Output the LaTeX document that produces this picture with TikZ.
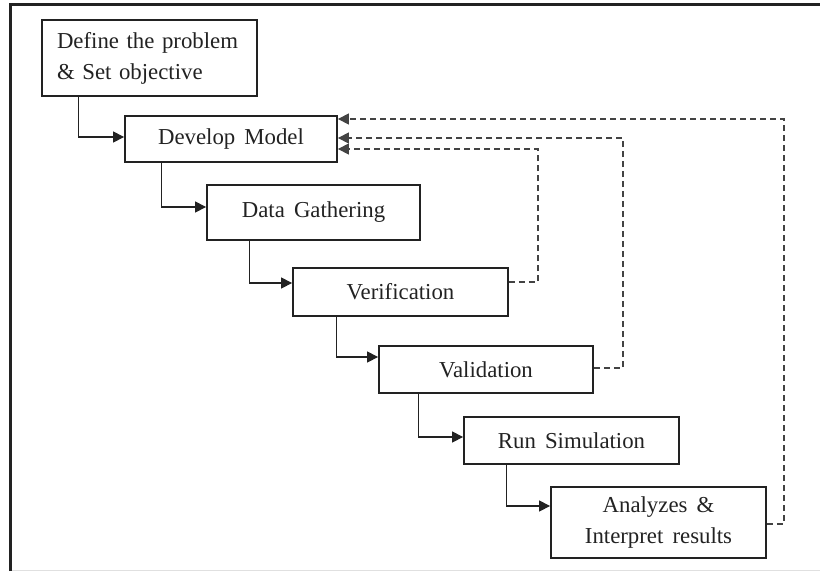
\documentclass[tikz,border=0pt]{standalone}
\usepackage{fontspec}
\setmainfont[WordSpace=1.6]{Liberation Serif}
\usetikzlibrary{arrows.meta,calc}
\definecolor{ink}{HTML}{222222}
\tikzset{
  stage/.style={draw=ink, line width=1.8pt, text=ink, minimum width=215pt,
    inner sep=0pt, font=\fontsize{22.8}{31}\selectfont, align=center},
  flow/.style={draw=ink, line width=1.2pt, -{Triangle[length=11pt,width=11pt]}},
  loopback/.style={draw=ink!85, line width=1.2pt, dash pattern=on 6pt off 4pt,
    -{Triangle[length=11pt,width=11pt]}}
}
\begin{document}
\begin{tikzpicture}[x=1pt,y=-1pt]
  \useasboundingbox (0,0) rectangle (820,571);
  % outer frame
  \draw[ink, line width=3pt] (10,571) -- (10,4) -- (820,4);
  \draw[black!12, line width=1pt] (12,570) -- (820,570);

  % process stages
  \node[stage, minimum height=76pt, text width=185pt, align=left] (b1) at (149.5,58)
    {Define the problem\\\& Set objective};
  \node[stage, minimum width=212pt, minimum height=46pt] (b2) at (231,139) {Develop Model};
  \node[stage, minimum width=213pt, minimum height=55pt] (b3) at (313.5,212.5) {Data Gathering};
  \node[stage, minimum height=48pt] (b4) at (400.5,292) {Verification};
  \node[stage, minimum width=214pt, minimum height=47pt] (b5) at (486,369.5) {Validation};
  \node[stage, minimum height=47pt] (b6) at (571.5,440.5) {Run Simulation};
  \node[stage, minimum height=71pt] (b7) at (658.5,522.5) {Analyzes \&\\Interpret results};

  % forward flow
  \draw[flow] (b1.south west) ++(37,0) |- ([yshift=2pt]b2.west);
  \draw[flow] (b2.south west) ++(37,0) |- ([yshift=5.5pt]b3.west);
  \draw[flow] (b3.south west) ++(43,0) |- ([yshift=9pt]b4.west);
  \draw[flow] (b4.south west) ++(44,0) |- ([yshift=12.5pt]b5.west);
  \draw[flow] (b5.south west) ++(40,0) |- ([yshift=3.5pt]b6.west);
  \draw[flow] (b6.south west) ++(43,0) |- ([yshift=16.5pt]b7.west);

  % feedback loops to the model
  \draw[loopback] ([yshift=10pt]b4.east) -- ++(29,0) |- ([yshift=-10pt]b2.east);
  \draw[loopback] ([yshift=1.5pt]b5.east) -- ++(29,0) |- ([yshift=1pt]b2.east);
  \draw[loopback] ([yshift=-1.5pt]b7.east) -- ++(17,0) |- ([yshift=20pt]b2.east);
\end{tikzpicture}
\end{document}
